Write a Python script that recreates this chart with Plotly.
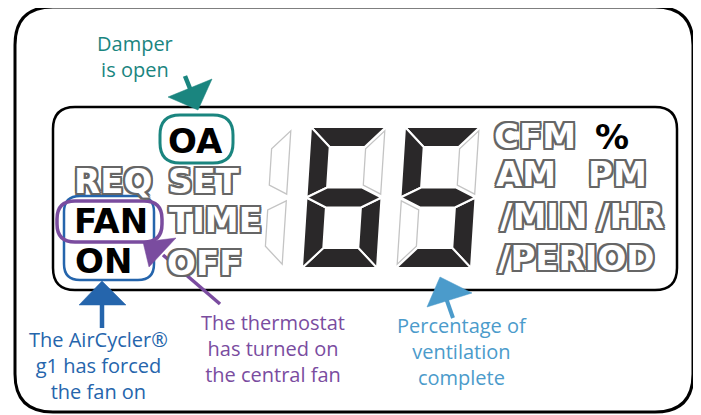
import plotly.graph_objects as go

# ---------------- data ----------------
display_digits = ["6", "5"]            # value shown on the LCD: 65 (%)
leading_segments = "bc"                # unlit "1" position in front
segment_map = {"5": "acdfg", "6": "acdefg"}

black_labels = ["OA", "FAN", "ON", "%"]
outline_labels = ["REQ", "SET", "TIME", "OFF", "CFM", "AM", "PM", "/MIN", "/HR", "/PERIOD"]

callout_texts = [
    "Damper<br>is open",
    "The AirCycler®<br>g1 has forced<br>the fan on",
    "The thermostat<br>has turned on<br>the central fan",
    "Percentage of<br>ventilation<br>complete",
]

# ---------------- layout / styles ----------------
FW, FH = 701, 415
OFF = 8   # page body margin
TEAL, BLUE, PURPLE, LBLUE = "#1a857f", "#2565ac", "#7a4c9f", "#4b9bcb"
callout_colors = [TEAL, BLUE, PURPLE, LBLUE]
callout_pos = [(135, 56), (98, 365), (273, 348), (462, 351)]

black_pos = [(195, 141), (111, 221), (103, 261), (612, 137)]
outline_pos = [(113, 181), (204, 181), (215, 220), (204, 263), (535, 136),
               (526, 174), (617, 174), (543, 216), (630, 216), (576, 258)]

slot_left = [302, 396]
lead_left = 208
DIG_TOP, DIG_W, DIG_H, DIG_T, DIG_S = 127, 75, 141, 20, 9


def rrect(x0, y0, x1, y1, r):
    return (f"M{x0+r},{y0} L{x1-r},{y0} Q{x1},{y0} {x1},{y0+r} L{x1},{y1-r} "
            f"Q{x1},{y1} {x1-r},{y1} L{x0+r},{y1} Q{x0},{y1} {x0},{y1-r} "
            f"L{x0},{y0+r} Q{x0},{y0} {x0+r},{y0} Z")


def seg_path(seg, left, lit=True, top=DIG_TOP, W=DIG_W, H=DIG_H, t=DIG_T, s=DIG_S):
    h2, ht = H / 2, t / 2
    pts = {
        'a': [(0, 0), (W, 0), (W - t, t), (t, t)],
        'b': [(W, 0), (W, h2), (W - t, h2 - ht), (W - t, t)],
        'c': [(W, h2), (W, H), (W - t, H - t), (W - t, h2 + ht)],
        'd': [(0, H), (t, H - t), (W - t, H - t), (W, H)],
        'e': [(0, h2), (t, h2 + ht), (t, H - t), (0, H)],
        'f': [(0, 0), (t, t), (t, h2 - ht), (0, h2)],
        'g': [(0, h2), (t, h2 - ht), (W - t, h2 - ht), (W, h2), (W - t, h2 + ht), (t, h2 + ht)],
    }[seg]
    if not lit:  # unlit segments drawn as slightly smaller, separated outlines
        cu = sum(p[0] for p in pts) / len(pts)
        cv = sum(p[1] for p in pts) / len(pts)
        pts = [(cu + (u - cu) * 0.9, cv + (v - cv) * 0.9) for u, v in pts]
    return "M" + " L".join(f"{left + u + s * (1 - v / H):.1f},{top + v:.1f}" for u, v in pts) + " Z"


def tri(p):
    return "M" + " L".join(f"{x},{y}" for x, y in p) + " Z"


shapes = []
# frames
shapes.append(dict(type="path", path=rrect(15, 7, 693, 412, 38), line=dict(color="black", width=3)))
shapes.append(dict(type="path", path=rrect(53, 107, 677, 290, 22), line=dict(color="black", width=2.5)))

# seven segment digits
UNLIT = dict(fillcolor="white", line=dict(color="#c4c4c4", width=1.3))
LIT = dict(fillcolor="#2a2829", line=dict(color="white", width=2))
for sg in leading_segments:
    shapes.append(dict(type="path", path=seg_path(sg, lead_left, lit=False), **UNLIT))
for d, left in zip(display_digits, slot_left):
    for sg in "abcdefg":
        if sg not in segment_map[d]:
            shapes.append(dict(type="path", path=seg_path(sg, left, lit=False), **UNLIT))
    for sg in segment_map[d]:
        shapes.append(dict(type="path", path=seg_path(sg, left), **LIT))

# highlight rings
shapes.append(dict(type="path", path=rrect(160, 115, 233, 163, 20), line=dict(color=TEAL, width=3)))
shapes.append(dict(type="path", path=rrect(64, 196, 154, 280, 16), line=dict(color=BLUE, width=2.5)))
shapes.append(dict(type="path", path=rrect(57, 201, 162, 242, 18), line=dict(color=PURPLE, width=3.5)))

# arrows
arrows = [
    (TEAL, (185, 76, 191, 91), [(168, 97), (212, 79), (198, 110)], 4.5),
    (BLUE, (102, 304, 102, 328), [(102, 281), (79, 305), (126, 305)], 4.5),
    (PURPLE, (220, 304, 163, 255), [(143, 242), (176, 238), (149, 267)], 3.5),
    (LBLUE, (453, 318, 446, 298), [(440, 277), (427, 307), (472, 293)], 4),
]
for col, (x0, y0, x1, y1), head, w in arrows:
    shapes.append(dict(type="line", x0=x0, y0=y0, x1=x1, y1=y1, line=dict(color=col, width=w)))
    shapes.append(dict(type="path", path=tri(head), fillcolor=col, line=dict(color=col, width=0.5)))

for s in shapes:
    s.setdefault("xref", "x")
    s.setdefault("yref", "y")

annotations = []
OUT = "#666666"
shadow = ", ".join(f"{dx}px {dy}px 0 {OUT}" for dx, dy in
                   [(-2, -2), (2, -2), (-2, 2), (2, 2), (0, 2), (0, -2), (2, 0), (-2, 0)])
for lab, (x, y) in zip(outline_labels, outline_pos):
    annotations.append(dict(x=x, y=y, text=lab, showarrow=False, xanchor="center", yanchor="middle",
                            font=dict(family="DejaVu Sans", size=34, color="white", weight="bold",
                                      shadow=shadow)))
for lab, (x, y) in zip(black_labels, black_pos):
    annotations.append(dict(x=x, y=y, text=lab, showarrow=False, xanchor="center", yanchor="middle",
                            font=dict(family="DejaVu Sans", size=34, color="black", weight="bold")))
for txt, (x, y), col in zip(callout_texts, callout_pos, callout_colors):
    annotations.append(dict(x=x, y=y, text=txt, showarrow=False, xanchor="center", yanchor="middle",
                            align="center", font=dict(family="Open Sans", size=20, color=col)))

fig = go.Figure()
fig.update_layout(
    width=FW, height=FH, margin=dict(l=0, r=0, t=0, b=0),
    paper_bgcolor="white", plot_bgcolor="white",
    xaxis=dict(range=[OFF, FW + OFF], visible=False, fixedrange=True),
    yaxis=dict(range=[FH + OFF, OFF], visible=False, fixedrange=True),
    shapes=shapes, annotations=annotations, showlegend=False,
)
fig.write_html("out.html")
